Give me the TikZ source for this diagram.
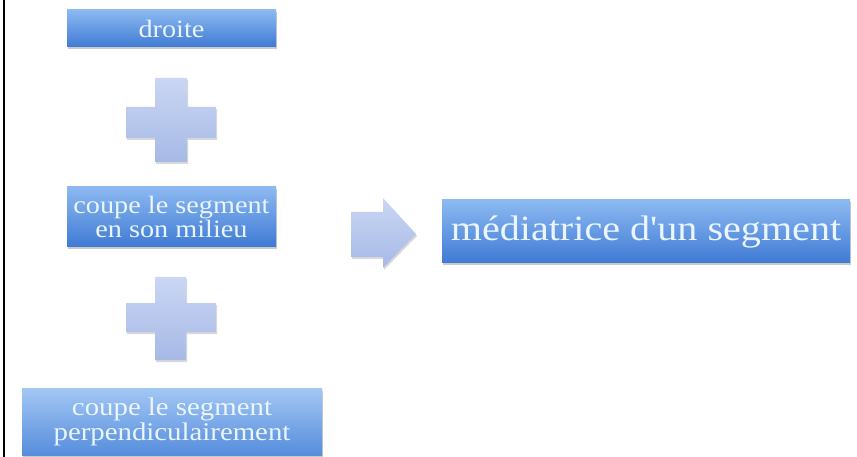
\documentclass[tikz,border=0pt]{standalone}
\usepackage{fontspec}
\setmainfont[FakeStretch=1.13, Ligatures=TeXOff]{Liberation Serif}
\usetikzlibrary{shadows}
\definecolor{boxtop}{HTML}{8CB9F1}
\definecolor{boxbot}{HTML}{3F7AD4}
\definecolor{txtc}{HTML}{EAF5FF}
\definecolor{plustop}{HTML}{CAD6F3}
\definecolor{plusbot}{HTML}{A6B9E6}
\tikzset{
  box/.style={rectangle, inner sep=0pt, top color=boxtop, bottom color=boxbot,
    draw=none, text=txtc, align=center,
    drop shadow={shadow xshift=1pt, shadow yshift=-2.5pt, opacity=0.35, fill=black!60}},
  plusshape/.style={top color=plustop, bottom color=plusbot, draw=none,
    drop shadow={shadow xshift=1pt, shadow yshift=-2pt, opacity=0.3, fill=black!50}},
}
\begin{document}
\begin{tikzpicture}[x=1pt,y=-1pt]
\useasboundingbox (0,0) rectangle (857,457);
\fill[white] (0,0) rectangle (857,457);
\draw[black, line width=2pt] (4,0) -- (4,457);
% boxes
\node[box, minimum width=209pt, minimum height=37pt, font=\fontsize{25}{25}\selectfont] (droite) at (171.5,28.5) {droite};
\node[box, minimum width=209pt, minimum height=60pt, font=\fontsize{25}{20}\selectfont] (milieu) at (171.5,217) {coupe le segment\\en son milieu};
\node[box, minimum width=300pt, minimum height=67pt, font=\fontsize{25.5}{25}\selectfont, top color=boxtop!80!white, bottom color=boxbot!70!boxtop] (perp) at (172,421.5) {coupe le segment\\perpendiculairement};
\node[box, minimum width=408pt, minimum height=63pt, font=\fontsize{35.5}{36}\selectfont] (med) at (646,231.5) {médiatrice d'un segment};
% plus signs
\path[plusshape] (155,78) -- (187,78) -- (187,107) -- (216,107) -- (216,138) -- (187,138) -- (187,162) -- (155,162) -- (155,138) -- (126,138) -- (126,107) -- (155,107) -- cycle;
\path[plusshape] (155,277) -- (186,277) -- (186,303) -- (216,303) -- (216,332) -- (186,332) -- (186,360) -- (155,360) -- (155,332) -- (126,332) -- (126,303) -- (155,303) -- cycle;
% arrow
\path[plusshape] (351,212) -- (383,212) -- (383,198) -- (416,234) -- (383,268) -- (383,257) -- (351,257) -- cycle;
\end{tikzpicture}
\end{document}
